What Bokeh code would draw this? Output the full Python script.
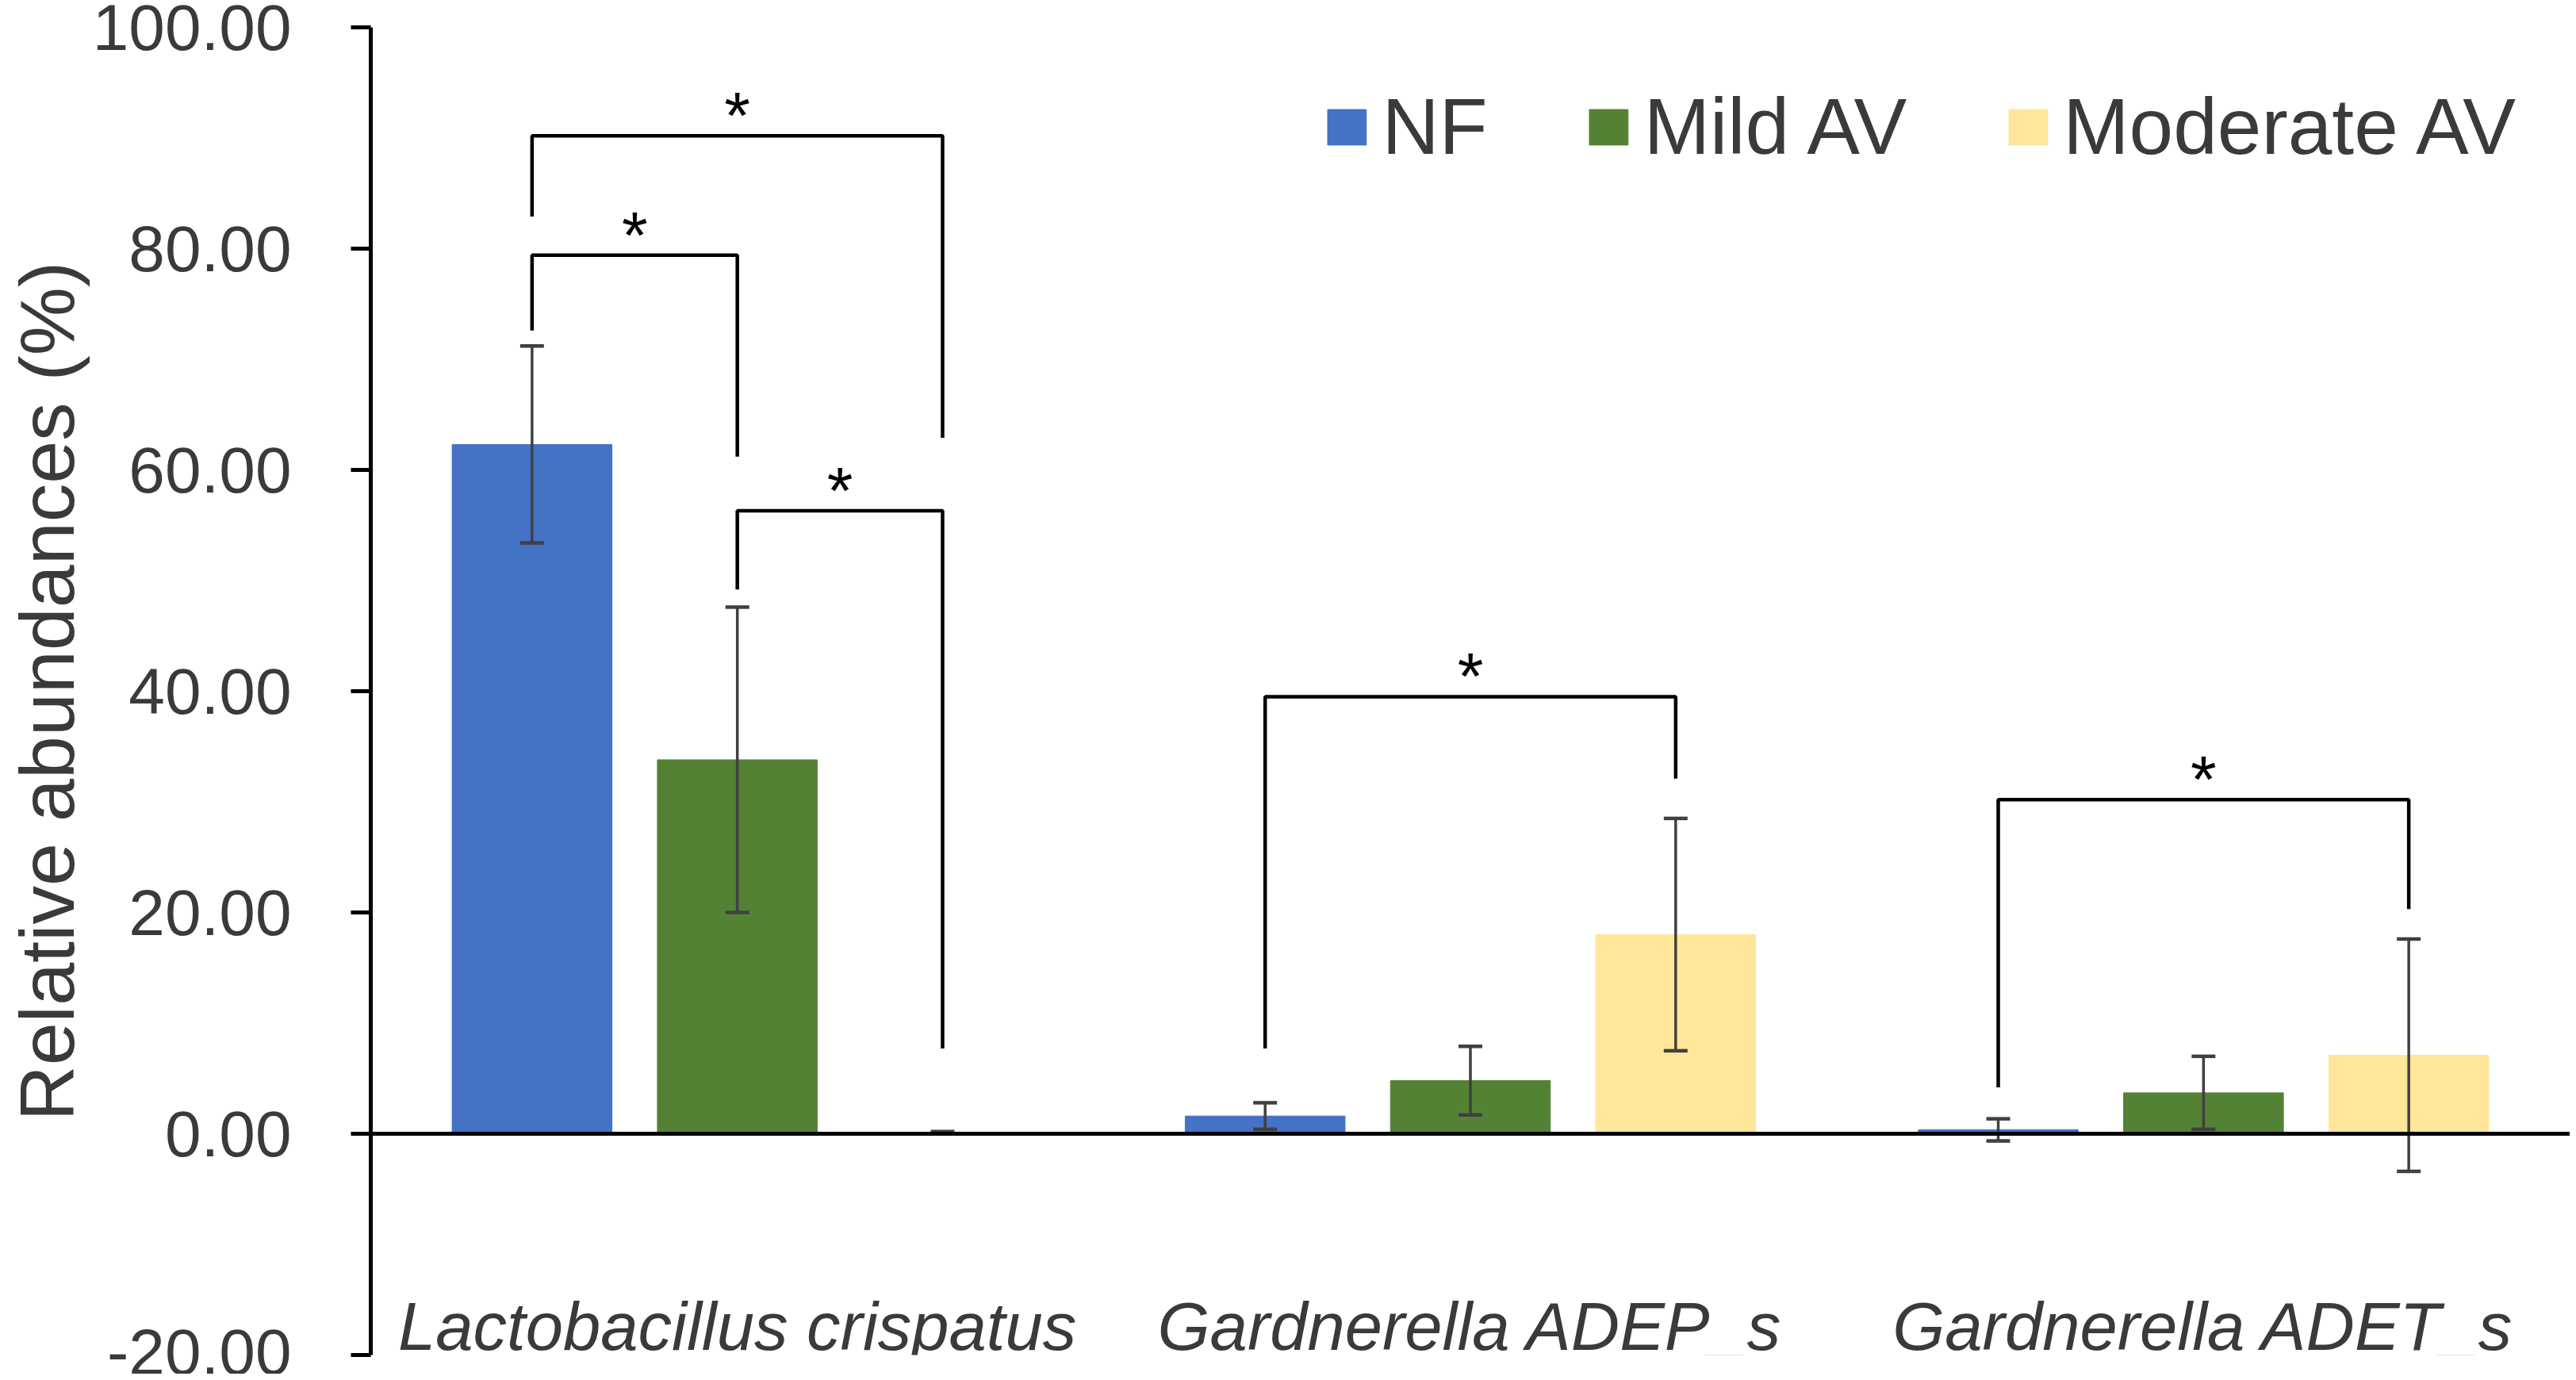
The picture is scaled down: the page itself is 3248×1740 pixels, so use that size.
import math
from bokeh.plotting import figure
from bokeh.models import (ColumnDataSource, FactorRange, Range1d, Span, LabelSet,
                          FixedTicker, NumeralTickFormatter)
from bokeh.transform import dodge
from bokeh.core.properties import value
from bokeh.embed import file_html
from bokeh.resources import INLINE

# ---------------- data ----------------
categories = ["Lactobacillus crispatus", "Gardnerella ADEP_s", "Gardnerella ADET_s"]
groups = ["NF", "Mild AV", "Moderate AV"]

nf_mean = [62.3, 1.6, 0.35]
nf_err = [8.9, 1.2, 1.0]
mild_mean = [33.8, 4.8, 3.7]
mild_err = [13.8, 3.1, 3.3]
moderate_mean = [0.1, 18.0, 7.1]
moderate_err = [0.1, 10.5, 10.5]

y_ticks = [-20, 0, 20, 40, 60, 80, 100]
y_label = "Relative abundances (%)"

# significance brackets
sig_category = ["Lactobacillus crispatus", "Lactobacillus crispatus", "Lactobacillus crispatus",
                "Gardnerella ADEP_s", "Gardnerella ADET_s"]
sig_from = ["NF", "NF", "Mild AV", "NF", "NF"]
sig_to = ["Moderate AV", "Mild AV", "Moderate AV", "Moderate AV", "Moderate AV"]
sig_top = [90.2, 79.4, 56.3, 39.5, 30.2]
sig_left_end = [82.9, 72.6, 49.2, 7.7, 4.2]
sig_right_end = [62.9, 61.2, 7.7, 32.1, 20.3]
sig_text = ["*", "*", "*", "*", "*"]

# ---------------- style ----------------
colors = ["#4472C4", "#548235", "#FFE699"]
offsets = [-0.28, 0.0, 0.28]
bar_width = 0.218
FONT = "Liberation Sans"
TEXT_COLOR = "#3a3a3a"
ERR_COLOR = "#404040"

p = figure(width=3240, height=1732, output_backend="svg", toolbar_location=None,
           x_range=FactorRange(factors=categories), y_range=Range1d(-20, 100),
           x_axis_location=None, title=None,
           min_border_left=467, min_border_right=0, min_border_top=34, min_border_bottom=24)
p.outline_line_color = None
p.grid.visible = False
p.background_fill_color = "white"
p.border_fill_color = "white"

means = [nf_mean, mild_mean, moderate_mean]
errs = [nf_err, mild_err, moderate_err]
for gi, g in enumerate(groups):
    src = ColumnDataSource(dict(
        cat=categories,
        mean=means[gi],
        upper=[m + e for m, e in zip(means[gi], errs[gi])],
        lower=[m - e for m, e in zip(means[gi], errs[gi])],
    ))
    xd = dodge("cat", offsets[gi], range=p.x_range)
    p.vbar(x=xd, top="mean", bottom=0, width=bar_width, source=src,
           fill_color=colors[gi], line_color=colors[gi], line_width=1,
           legend_label=g)
    p.segment(x0=xd, y0="lower", x1=xd, y1="upper", source=src,
              line_color=ERR_COLOR, line_width=3.5)
    p.scatter(x=xd, y="upper", source=src, marker="dash", size=30,
              line_color=ERR_COLOR, line_width=4.5)
    p.scatter(x=xd, y="lower", source=src, marker="dash", size=30,
              line_color=ERR_COLOR, line_width=4.5)

# zero line
p.add_layout(Span(location=0, dimension="width", line_color="black", line_width=5))

# significance brackets
bx, by, sx, sy = [], [], [], []
for c, gf, gt, top, le, re in zip(sig_category, sig_from, sig_to, sig_top, sig_left_end, sig_right_end):
    base = categories.index(c) + 0.5
    xl = base + offsets[groups.index(gf)]
    xr = base + offsets[groups.index(gt)]
    bx.append([xl, xl, xr, xr])
    by.append([le, top, top, re])
    sx.append((xl + xr) / 2)
    sy.append(top + 1.8)
p.multi_line(xs=bx, ys=by, line_color="black", line_width=4.5)
p.text(x=sx, y=sy, text=sig_text, text_font=value(FONT), text_font_size="84px",
       text_align="center", text_baseline="middle", text_color="black")

# category labels (Excel "low" position)
lab_src = ColumnDataSource(dict(cat=categories, y=[-19.5] * len(categories)))
p.add_layout(LabelSet(x="cat", y="y", text="cat", source=lab_src,
                      text_font=value(FONT), text_font_size="85px", text_font_style="italic",
                      text_color=TEXT_COLOR, text_align="center", text_baseline="alphabetic"))

# y axis
ax = p.yaxis[0]
ax.ticker = FixedTicker(ticks=y_ticks)
ax.formatter = NumeralTickFormatter(format="0.00")
ax.minor_tick_line_color = None
ax.major_tick_in = 0
ax.major_tick_out = 25
ax.major_tick_line_width = 5
ax.major_tick_line_color = "black"
ax.axis_line_width = 5
ax.axis_line_color = "black"
ax.major_label_standoff = 75
ax.major_label_text_font = FONT
ax.major_label_text_font_size = "82px"
ax.major_label_text_color = TEXT_COLOR
ax.axis_label = y_label
ax.axis_label_text_font = FONT
ax.axis_label_text_font_size = "97px"
ax.axis_label_text_font_style = "normal"
ax.axis_label_text_color = TEXT_COLOR
ax.axis_label_standoff = 0

# legend
lg = p.legend[0]
lg.orientation = "horizontal"
lg.location = "top_right"
lg.margin = 68
lg.padding = 0
lg.spacing = 122
lg.label_standoff = 14
lg.glyph_width = 61
lg.glyph_height = 56
lg.label_text_font = FONT
lg.label_text_font_size = "100px"
lg.label_text_color = TEXT_COLOR
lg.border_line_color = None
lg.background_fill_alpha = 0

open("out.html", "w").write(file_html(p, INLINE))
